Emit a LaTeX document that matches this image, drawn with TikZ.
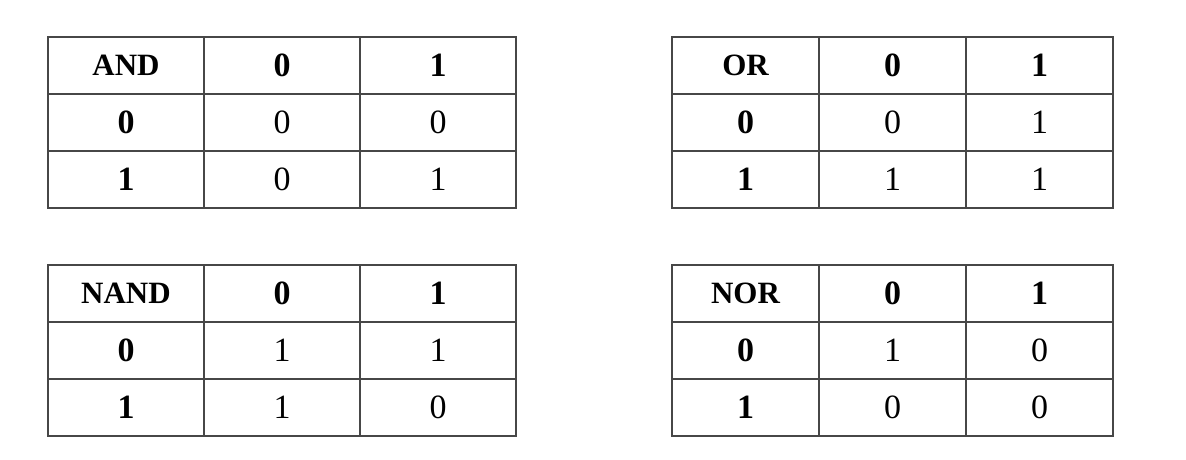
\documentclass[tikz,border=0pt]{standalone}
\usepackage{fontspec}
\setmainfont{Liberation Serif}
\usepackage{tikz}

\tikzset{
  cellbox/.style={draw=black!72, line width=1.4pt, inner sep=0pt, outer sep=0pt,
    minimum height=57pt, font=\fontsize{34}{40}\selectfont},
  wide/.style={cellbox, minimum width=156pt},
  narrow/.style={cellbox, minimum width=147pt},
  head/.style={font=\fontsize{34}{40}\selectfont\bfseries},
  opname/.style={font=\fontsize{31}{36}\selectfont\bfseries}
}

\begin{document}
\begin{tikzpicture}[x=1pt, y=-1pt]
\useasboundingbox (0,0) rectangle (1186,460);

% AND
\node [wide, opname] (andop) at (126,65.5) {AND};
\node [wide, head] (andA0) at (282,65.5) {0};
\node [wide, head] (andA1) at (438,65.5) {1};
\node [wide, head] (andB0) at (126,122.5) {0};
\node [wide] (and00) at (282,122.5) {0};
\node [wide] (and01) at (438,122.5) {0};
\node [wide, head] (andB1) at (126,179.5) {1};
\node [wide] (and10) at (282,179.5) {0};
\node [wide] (and11) at (438,179.5) {1};

% OR
\node [narrow, opname] (orop) at (745.5,65.5) {OR};
\node [narrow, head] (orA0) at (892.5,65.5) {0};
\node [narrow, head] (orA1) at (1039.5,65.5) {1};
\node [narrow, head] (orB0) at (745.5,122.5) {0};
\node [narrow] (or00) at (892.5,122.5) {0};
\node [narrow] (or01) at (1039.5,122.5) {1};
\node [narrow, head] (orB1) at (745.5,179.5) {1};
\node [narrow] (or10) at (892.5,179.5) {1};
\node [narrow] (or11) at (1039.5,179.5) {1};

% NAND
\node [wide, opname] (nandop) at (126,293.5) {NAND};
\node [wide, head] (nandA0) at (282,293.5) {0};
\node [wide, head] (nandA1) at (438,293.5) {1};
\node [wide, head] (nandB0) at (126,350.5) {0};
\node [wide] (nand00) at (282,350.5) {1};
\node [wide] (nand01) at (438,350.5) {1};
\node [wide, head] (nandB1) at (126,407.5) {1};
\node [wide] (nand10) at (282,407.5) {1};
\node [wide] (nand11) at (438,407.5) {0};

% NOR
\node [narrow, opname] (norop) at (745.5,293.5) {NOR};
\node [narrow, head] (norA0) at (892.5,293.5) {0};
\node [narrow, head] (norA1) at (1039.5,293.5) {1};
\node [narrow, head] (norB0) at (745.5,350.5) {0};
\node [narrow] (nor00) at (892.5,350.5) {1};
\node [narrow] (nor01) at (1039.5,350.5) {0};
\node [narrow, head] (norB1) at (745.5,407.5) {1};
\node [narrow] (nor10) at (892.5,407.5) {0};
\node [narrow] (nor11) at (1039.5,407.5) {0};

\end{tikzpicture}
\end{document}
